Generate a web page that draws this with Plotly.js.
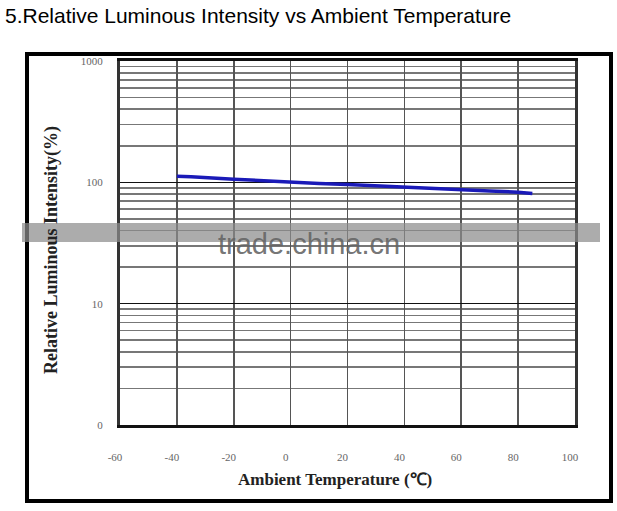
<!DOCTYPE html>
<html>
<head>
<meta charset="utf-8">
<script src="https://cdn.plot.ly/plotly-3.0.1.min.js"></script>
<style>html,body{margin:0;padding:0;background:#fff;}#chart{width:617px;height:511px;}</style>
</head>
<body>
<div id="chart"></div>
<script>
// Data
var temperature = [-40, -35, -20, -10, 0, 10, 20, 30, 40, 50, 60, 70, 80, 85];
var intensity   = [112, 111, 106, 103, 100, 98, 96, 94, 92, 90, 88, 85, 83, 81];
var xTickVals = [-60, -40, -20, 0, 20, 40, 60, 80, 100];
var xTickText = ['-60', '-40', '-20', '0', '20', '40', '60', '80', '100'];
var yTickVals = [1, 10, 100, 1000];
var yTickText = ['0', '10', '100', '1000'];

var W = 617, H = 511;
var M = {l: 120, r: 42, t: 61, b: 86};
var PW = W - M.l - M.r, PH = H - M.t - M.b;
function px(x) { return (x - M.l) / PW; }
function py(y) { return (H - M.b - y) / PH; }

var serif = 'Liberation Serif, Times New Roman, serif';

var trace = {
  x: temperature, y: intensity, type: 'scatter', mode: 'lines',
  line: {color: '#1a1ab8', width: 3.5}, hoverinfo: 'skip', showlegend: false
};

var layout = {
  width: W, height: H,
  margin: M,
  paper_bgcolor: '#fff', plot_bgcolor: '#fff',
  showlegend: false,
  title: {
    text: '5.Relative Luminous Intensity vs Ambient Temperature',
    x: 5 / W, xanchor: 'left', xref: 'container', y: 1 - 16 / H, yanchor: 'middle', yref: 'container',
    font: {family: 'Liberation Sans, Arial, sans-serif', size: 21, color: '#000'}
  },
  xaxis: {
    range: [-60, 100], tickvals: xTickVals, ticktext: xTickText,
    showgrid: true, gridcolor: '#555', gridwidth: 1.6,
    zeroline: false, showline: true, linecolor: '#111', linewidth: 3, mirror: true,
    ticks: '', ticklabelstandoff: 20, ticklabelshift: -5,
    tickfont: {family: serif, size: 11, color: '#666'}, fixedrange: true
  },
  yaxis: {
    type: 'log', range: [0, 3], tickvals: yTickVals, ticktext: yTickText,
    showgrid: true, gridcolor: '#111', gridwidth: 1.5,
    minor: {showgrid: true, gridcolor: '#777', gridwidth: 1.6, dtick: 'D1', ticks: ''},
    zeroline: false, showline: true, linecolor: '#333', linewidth: 3, mirror: true,
    ticks: '', ticklabelstandoff: 12,
    tickfont: {family: serif, size: 11, color: '#666'}, fixedrange: true
  },
  shapes: [
    {type: 'rect', xref: 'paper', yref: 'paper', x0: px(27), x1: px(611), y0: py(501), y1: py(54),
     line: {color: '#000', width: 4}, fillcolor: 'rgba(0,0,0,0)', layer: 'below'},
    {type: 'rect', xref: 'paper', yref: 'paper', x0: px(22), x1: px(600), y0: py(242), y1: py(223),
     line: {width: 0}, fillcolor: 'rgba(140,140,140,0.72)', layer: 'above'}
  ],
  annotations: [
    {text: 'Relative Luminous Intensity(%)', xref: 'paper', yref: 'paper', x: px(52), y: py(250),
     textangle: -90, showarrow: false, xanchor: 'center', yanchor: 'middle',
     font: {family: serif, size: 18, color: '#222', weight: 'bold'}},
    {text: 'Ambient Temperature (℃)', xref: 'paper', yref: 'paper', x: px(335), y: py(480),
     showarrow: false, xanchor: 'center', yanchor: 'middle',
     font: {family: serif, size: 17, color: '#222', weight: 'bold'}},
    {text: 'trade.china.cn', xref: 'paper', yref: 'paper', x: px(309), y: py(244),
     showarrow: false, xanchor: 'center', yanchor: 'middle',
     font: {family: 'Liberation Sans, Arial, sans-serif', size: 29, color: 'rgba(100,100,100,0.9)'}}
  ]
};

Plotly.newPlot('chart', [trace], layout, {displayModeBar: false, staticPlot: true});
</script>
</body>
</html>
